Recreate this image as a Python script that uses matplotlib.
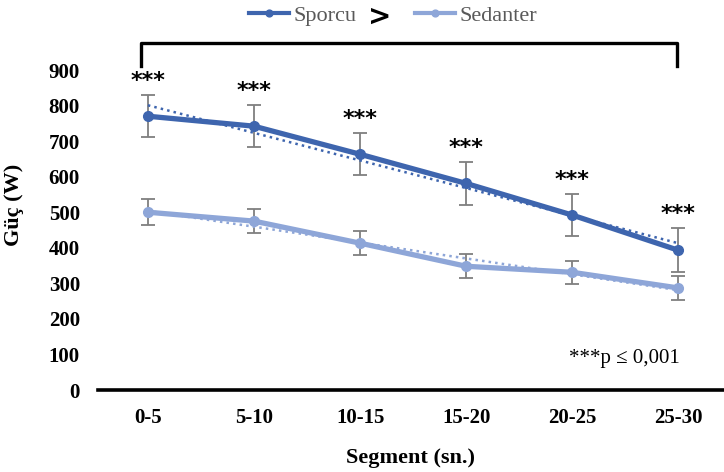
import numpy as np
import matplotlib
matplotlib.use('Agg')
import matplotlib.pyplot as plt
from matplotlib.lines import Line2D

# values
segments = ['0-5', '5-10', '10-15', '15-20', '20-25', '25-30']
sporcu = [770, 742, 663, 581, 492, 393]
sporcu_sd = [59, 59, 59, 60, 60, 62]
sedanter = [500, 475, 413, 348, 331, 287]
sedanter_sd = [36, 33, 34, 34, 32, 34]
stars = ['***'] * 6

dark = '#3E65AE'
light = '#8EA6D8'
gray = '#7F7F7F'
serif = 'Liberation Serif'

fig = plt.figure(figsize=(7.24, 4.72), dpi=100)
ax = fig.add_axes([98 / 724, 1 - 390 / 472, 626 / 724, 320 / 472])

x = np.arange(len(segments))

for vals, sd, col, name in [(sporcu, sporcu_sd, dark, 'Sporcu'),
                            (sedanter, sedanter_sd, light, 'Sedanter')]:
    ax.errorbar(x, vals, yerr=sd, fmt='none', ecolor=gray, elinewidth=1.3,
                capsize=5, capthick=1.3, zorder=2)
    ax.plot(x, vals, '-o', color=col, lw=3.8, ms=7, zorder=3, label=name)
    k, b = np.polyfit(x, vals, 1)
    ax.plot(x, k * x + b, ':', color=col, lw=1.8, zorder=4)

# significance stars above the upper error bar
for xi, v, s, st in zip(x, sporcu, sporcu_sd, stars):
    ax.annotate(st, (xi, v + s), xytext=(0, 3), textcoords='offset points',
                ha='center', va='bottom', fontsize=16, fontweight='bold',
                family='DejaVu Sans')

ax.set_xlim(-0.47, 5.43)
ax.set_ylim(0, 900)
ax.set_yticks(range(0, 901, 100))
ax.set_xticks(x)
ax.set_xticklabels(segments)
for lab in ax.get_xticklabels() + ax.get_yticklabels():
    lab.set_family(serif)
    lab.set_fontweight('bold')
    lab.set_fontsize(15)
ax.tick_params(length=0, pad=13)
for sp in ['top', 'right', 'left']:
    ax.spines[sp].set_visible(False)
ax.spines['bottom'].set_linewidth(2.6)
ax.spines['bottom'].set_color('black')

ax.set_xlabel('Segment (sn.)', family=serif, fontweight='bold', fontsize=16, labelpad=14)
ax.set_ylabel('Güç (W)', family=serif, fontweight='bold', fontsize=16)
ax.yaxis.set_label_coords(-74 / 626, 0.578)

ax.text(0.93, 0.1, '***p ≤ 0,001', transform=ax.transAxes, ha='right',
        va='center', family=serif, fontsize=15)

# legend with ">" between the two entries
leg = fig.legend(loc='center', bbox_to_anchor=(393 / 724, 1 - 16 / 472), ncol=2,
                 frameon=False, prop={'family': serif, 'size': 16},
                 handlelength=1.8, handletextpad=0.2, columnspacing=2.6,
                 borderpad=0, markerscale=0.7)
for t in leg.get_texts():
    t.set_color('#595959')
for h in leg.legend_handles:
    h.set_linewidth(3)
fig.text(380 / 724, 1 - 17 / 472, '>', ha='center', va='center',
         fontsize=20, fontweight='bold', family='DejaVu Sans')

# bracket over the chart
bx = [141 / 724, 141 / 724, 677 / 724, 677 / 724]
by = [1 - 66 / 472, 1 - 43 / 472, 1 - 43 / 472, 1 - 66 / 472]
fig.add_artist(Line2D(bx, by, color='black', lw=2.4, transform=fig.transFigure))

fig.savefig('out.png', dpi=100)
